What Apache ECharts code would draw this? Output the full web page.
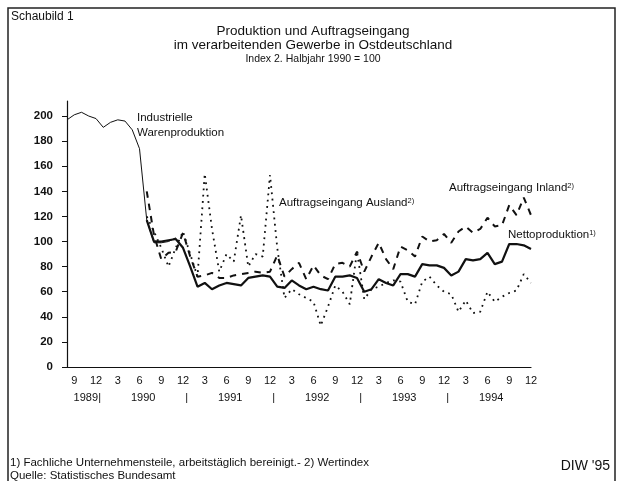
<!DOCTYPE html>
<html>
<head>
<meta charset="utf-8">
<script src="https://cdn.jsdelivr.net/npm/echarts@6/dist/echarts.min.js"></script>
<style>
html,body{margin:0;padding:0;background:#fff;}
#c{width:627px;height:481px;}
</style>
</head>
<body>
<div id="c"></div>
<script>
// Monthly categories: Aug 1989 .. Dec 1994
const months = ['8','9','10','11','12',
  '1','2','3','4','5','6','7','8','9','10','11','12',
  '1','2','3','4','5','6','7','8','9','10','11','12',
  '1','2','3','4','5','6','7','8','9','10','11','12',
  '1','2','3','4','5','6','7','8','9','10','11','12',
  '1','2','3','4','5','6','7','8','9','10','11','12'];

// Industrielle Warenproduktion (Aug 1989 .. Nov 1990)
const industrie = [197,201,203,200,198,191,195,197,196,189,174,117,99,99,100,103];

// Nettoproduktion (Jul 1990 .. Dec 1994)
const netto = [117,100,100,101,102,95,80,64,67,62,65,67,66,65,71,72,73,72,64,63,69,65,62,64,62,61,
  72,72,73,71,60,62,70,67,65,74,74,72,82,81,81,79,73,76,86,85,86,91,82,84,98,98,97,94];

// Auftragseingang Inland (Jul 1990 .. Dec 1994)
const inland = [140,105,86,91,92,107,88,72,73,75,71,71,73,74,75,76,75,76,89,72,78,83,70,81,73,70,
  82,83,80,92,76,88,99,86,78,96,93,88,104,100,101,106,99,108,112,107,110,119,112,113,129,121,135,121];

// Auftragseingang Ausland (Jul 1990 .. Dec 1994)
const ausland = [120,108,95,80,95,108,90,72,154,110,76,90,84,121,80,90,88,153,95,55,62,58,55,52,33,48,
  65,60,50,92,54,62,64,67,69,68,52,50,68,72,65,60,58,44,53,43,44,60,52,56,59,61,74,67];

const startNew = 11; // Jul 1990
const yTickValues = [0,20,40,60,80,100,120,140,160,180,200];
const yearLabelPos = [2.6, 4.5, 10.5, 16.5, 22.5, 28.5, 34.5, 40.5, 46.5, 52.5, 58.5];
const yearLabelText = ['1989', '|', '1990', '|', '1991', '|', '1992', '|', '1993', '|', '1994'];

function pad(arr, start) {
  const out = new Array(months.length).fill(null);
  arr.forEach((v, i) => { out[start + i] = v; });
  return out;
}

const FONT = 'Liberation Sans, Arial, Helvetica, sans-serif';
const INK = '#111';

const chart = echarts.init(document.getElementById('c'), null, {renderer: 'canvas'});
const option = {
  backgroundColor: '#fff',
  animation: false,
  textStyle: { fontFamily: FONT, color: INK },
  grid: { left: 67, right: 96, top: 101, bottom: 114 },
  xAxis: [
    {
      type: 'category', data: months, boundaryGap: false,
      axisLine: { lineStyle: { color: INK, width: 1.2 } },
      axisTick: { show: false },
      splitLine: { show: false },
      axisLabel: {
        interval: function (i) { return i % 3 === 1; },
        color: INK, fontSize: 11, margin: 8, fontFamily: FONT
      }
    },
    {
      type: 'value', min: 0, max: 64, position: 'bottom',
      axisLine: { show: false }, axisTick: { show: false }, splitLine: { show: false },
      axisLabel: {
        customValues: yearLabelPos,
        formatter: function (v) {
          let best = 0, d = 1e9;
          yearLabelPos.forEach((p, k) => { if (Math.abs(p - v) < d) { d = Math.abs(p - v); best = k; } });
          return yearLabelText[best];
        },
        color: INK, fontSize: 11, margin: 25, fontFamily: FONT
      }
    }
  ],
  yAxis: {
    type: 'value', min: 0, max: 212, interval: 20,
    axisLine: { show: true, lineStyle: { color: INK, width: 1.2 } },
    axisTick: { show: true, length: 5, customValues: yTickValues, lineStyle: { color: INK } },
    splitLine: { show: false },
    axisLabel: { customValues: yTickValues, color: INK, fontSize: 11.5, fontWeight: 'bold', margin: 14, fontFamily: FONT }
  },
  series: [
    { name: 'Industrielle Warenproduktion', type: 'line', data: pad(industrie, 0), symbol: 'none',
      lineStyle: { color: INK, width: 1 } },
    { name: 'Auftragseingang Ausland', type: 'line', data: pad(ausland, startNew), symbol: 'none',
      lineStyle: { color: INK, width: 1.8, type: [1.8, 4.5] } },
    { name: 'Auftragseingang Inland', type: 'line', data: pad(inland, startNew), symbol: 'none',
      lineStyle: { color: INK, width: 2, type: [6.5, 6] } },
    { name: 'Nettoproduktion', type: 'line', data: pad(netto, startNew), symbol: 'none',
      lineStyle: { color: INK, width: 2.2 } }
  ],
  graphic: [
    { type: 'rect', shape: { x: 8, y: 8, width: 607, height: 490 }, silent: true,
      style: { fill: 'none', stroke: '#222', lineWidth: 1.5 } },
    { type: 'text', style: { x: 11, y: 17, text: 'Schaubild 1', font: '12px ' + FONT, fill: INK, textVerticalAlign: 'middle' } },
    { type: 'text', style: { x: 313, y: 31, text: 'Produktion und Auftragseingang', font: '13.5px ' + FONT, fill: INK, textAlign: 'center', textVerticalAlign: 'middle' } },
    { type: 'text', style: { x: 313, y: 45, text: 'im verarbeitenden Gewerbe in Ostdeutschland', font: '13.5px ' + FONT, fill: INK, textAlign: 'center', textVerticalAlign: 'middle' } },
    { type: 'text', style: { x: 313, y: 59, text: 'Index 2. Halbjahr 1990 = 100', font: '10.5px ' + FONT, fill: INK, textAlign: 'center', textVerticalAlign: 'middle' } },
    { type: 'text', style: { x: 137, y: 118, text: 'Industrielle', font: '11.5px ' + FONT, fill: INK, textVerticalAlign: 'middle' } },
    { type: 'text', style: { x: 137, y: 133, text: 'Warenproduktion', font: '11.5px ' + FONT, fill: INK, textVerticalAlign: 'middle' } },
    { type: 'text', style: { x: 279, y: 203, text: '{a|Auftragseingang Ausland}{s|2)}', fill: INK, textVerticalAlign: 'middle',
        rich: { a: { fontSize: 11.5, fontFamily: FONT, fill: INK, verticalAlign: 'bottom' }, s: { fontSize: 7.5, fontFamily: FONT, fill: INK, verticalAlign: 'top' } } } },
    { type: 'text', style: { x: 449, y: 188, text: '{a|Auftragseingang Inland}{s|2)}', fill: INK, textVerticalAlign: 'middle',
        rich: { a: { fontSize: 11.5, fontFamily: FONT, fill: INK, verticalAlign: 'bottom' }, s: { fontSize: 7.5, fontFamily: FONT, fill: INK, verticalAlign: 'top' } } } },
    { type: 'text', style: { x: 508, y: 235, text: '{a|Nettoproduktion}{s|1)}', fill: INK, textVerticalAlign: 'middle',
        rich: { a: { fontSize: 11.5, fontFamily: FONT, fill: INK, verticalAlign: 'bottom' }, s: { fontSize: 7.5, fontFamily: FONT, fill: INK, verticalAlign: 'top' } } } },
    { type: 'text', style: { x: 10, y: 463, text: '1) Fachliche Unternehmensteile, arbeitstäglich bereinigt.- 2) Wertindex', font: '11.5px ' + FONT, fill: INK, textVerticalAlign: 'middle' } },
    { type: 'text', style: { x: 10, y: 476, text: 'Quelle: Statistisches Bundesamt', font: '11.5px ' + FONT, fill: INK, textVerticalAlign: 'middle' } },
    { type: 'text', style: { x: 610, y: 466, text: "DIW '95", font: '14px ' + FONT, fill: INK, textAlign: 'right', textVerticalAlign: 'middle' } }
  ]
};
chart.setOption(option);
</script>
</body>
</html>
